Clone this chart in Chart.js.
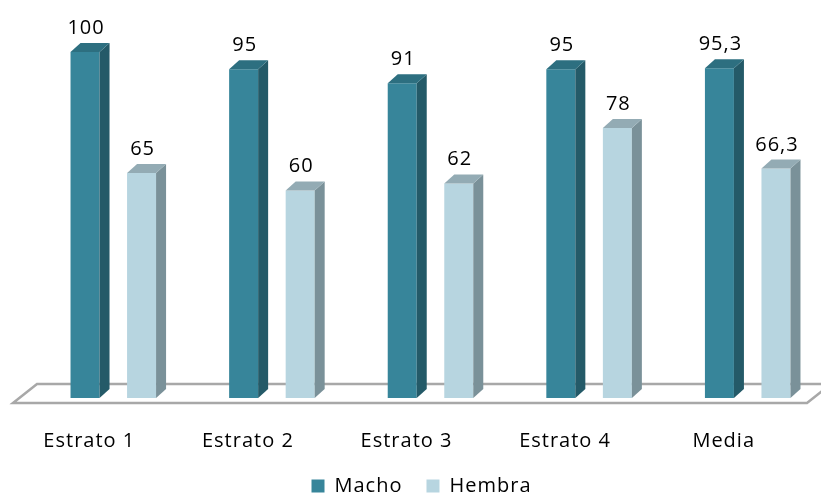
<!DOCTYPE html>
<html>
<head>
<meta charset="utf-8">
<script src="https://cdn.jsdelivr.net/npm/chart.js@4"></script>
<style>
  html, body { margin: 0; padding: 0; background: #fff; overflow: hidden; }
  #wrap { width: 840px; height: 497px; }
</style>
</head>
<body>
<div id="wrap"><canvas id="myChart"></canvas></div>
<script>
const categories = ['Estrato 1', 'Estrato 2', 'Estrato 3', 'Estrato 4', 'Media'];
const machoValues = [100, 95, 91, 95, 95.3];
const hembraValues = [65, 60, 62, 78, 66.3];

// front / side / top colours for the 3d look
const machoColors = ['#37859a', '#245a68', '#2d6f80'];
const hembraColors = ['#b7d5e0', '#7a9199', '#93abb4'];

const depthX = 10;
const depthY = 9;
const fontFamily = '"Open Sans", "DejaVu Sans", sans-serif';

function fmt(v) {
    return String(v).replace('.', ',');
}

const bar3d = {
    id: 'bar3d',
    beforeLayout(chart) { chart.ctx.letterSpacing = '1px'; },
    beforeDraw(chart) { chart.ctx.letterSpacing = '1px'; },
    beforeDatasetsDraw(chart) {
        // floor of the 3d plot
        const ctx = chart.ctx;
        const a = chart.chartArea;
        const base = chart.scales.y.getPixelForValue(0);
        ctx.save();
        ctx.beginPath();
        ctx.moveTo(a.left - 21, base + 5);
        ctx.lineTo(a.left + 3, base - 14);
        ctx.lineTo(a.right + 4, base - 14);
        ctx.lineTo(a.right - 20, base + 5);
        ctx.closePath();
        ctx.fillStyle = '#ffffff';
        ctx.fill();
        ctx.strokeStyle = '#a8a8a8';
        ctx.lineWidth = 2.5;
        ctx.stroke();
        ctx.restore();
    },
    afterDatasetsDraw(chart) {
        const ctx = chart.ctx;
        ctx.save();
        chart.data.datasets.forEach((ds, i) => {
            const meta = chart.getDatasetMeta(i);
            meta.data.forEach((bar, j) => {
                const p = bar.getProps(['x', 'y', 'base', 'width'], true);
                const l = p.x - p.width / 2;
                const r = p.x + p.width / 2;

                // side
                ctx.beginPath();
                ctx.moveTo(r, p.y);
                ctx.lineTo(r + depthX, p.y - depthY);
                ctx.lineTo(r + depthX, p.base - depthY);
                ctx.lineTo(r, p.base);
                ctx.closePath();
                ctx.fillStyle = ds.faceColors[1];
                ctx.fill();

                // top
                ctx.beginPath();
                ctx.moveTo(l, p.y);
                ctx.lineTo(l + depthX, p.y - depthY);
                ctx.lineTo(r + depthX, p.y - depthY);
                ctx.lineTo(r, p.y);
                ctx.closePath();
                ctx.fillStyle = ds.faceColors[2];
                ctx.fill();

                // value label
                ctx.fillStyle = '#000000';
                ctx.font = '20px ' + fontFamily;
                ctx.textAlign = 'center';
                ctx.textBaseline = 'alphabetic';
                ctx.fillText(fmt(ds.data[j]), p.x + 1, p.y - 18);
            });
        });
        ctx.restore();
    }
};

const ctx = document.getElementById('myChart').getContext('2d');

const chart = new Chart(ctx, {
    type: 'bar',
    data: {
        labels: categories,
        datasets: [
            {
                label: 'Macho',
                data: machoValues,
                backgroundColor: machoColors[0],
                faceColors: machoColors,
                borderWidth: 0
            },
            {
                label: 'Hembra',
                data: hembraValues,
                backgroundColor: hembraColors[0],
                faceColors: hembraColors,
                borderWidth: 0
            }
        ]
    },
    options: {
        responsive: true,
        maintainAspectRatio: false,
        animation: false,
        categoryPercentage: 0.713,
        barPercentage: 0.513,
        layout: {
            padding: { left: 16, right: 13, top: 52, bottom: 0 }
        },
        plugins: {
            legend: {
                position: 'bottom',
                maxHeight: 45,
                labels: {
                    boxWidth: 13,
                    boxHeight: 13,
                    padding: 24,
                    color: '#000000',
                    font: { family: fontFamily, size: 20 }
                }
            },
            tooltip: { enabled: false }
        },
        scales: {
            x: {
                grid: { display: false },
                border: { display: false },
                ticks: {
                    color: '#000000',
                    labelOffset: -24,
                    padding: 23,
                    font: { family: fontFamily, size: 20 }
                },
                afterFit(scale) { scale.height = 54; }
            },
            y: {
                min: 0,
                max: 100,
                grid: { display: false },
                border: { display: false },
                ticks: { display: false },
                afterFit(scale) { scale.width = 18; }
            }
        }
    },
    plugins: [bar3d]
});
</script>
</body>
</html>
